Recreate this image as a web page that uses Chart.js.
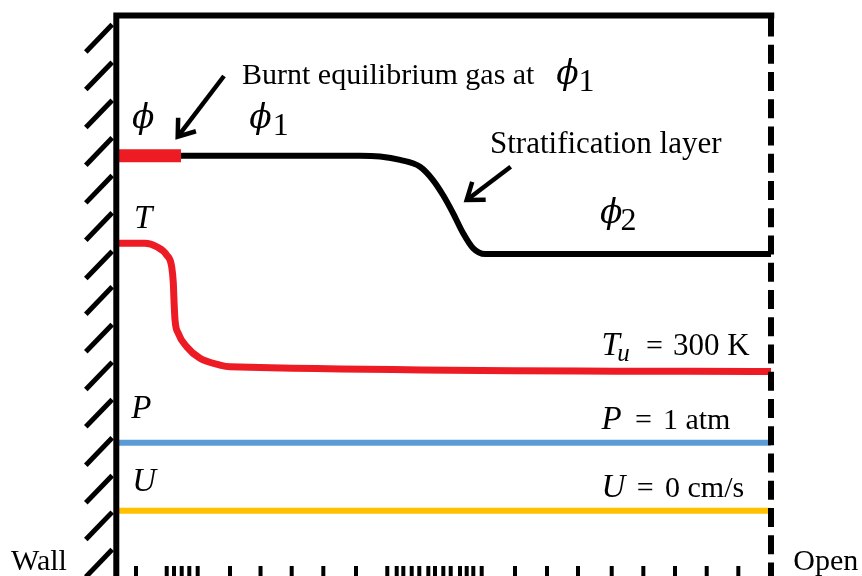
<!DOCTYPE html>
<html>
<head>
<meta charset="utf-8">
<script src="https://cdn.jsdelivr.net/npm/chart.js@4/dist/chart.umd.min.js"></script>
<style>
  html, body { margin: 0; padding: 0; background: #ffffff; }
  #wrap { width: 862px; height: 576px; }
</style>
</head>
<body>
<div id="wrap"><canvas id="chart" width="862" height="576"></canvas></div>
<script>
// Horizontal: position along the duct, 0 = closed wall, 100 = open end.
// Vertical: diagram height, 0 = bottom edge, 100 = top wall.

// Closed-wall hatch marks (heights) and computational mesh nodes (positions)
const wallHatchY = [95.95, 89.24, 82.46, 75.74, 69.01, 62.36, 55.52, 49.15, 42.43, 35.72, 29.05, 22.21, 15.49, 8.96, 2.28];
const meshX = [3.01, 7.70, 8.81, 9.99, 11.15, 12.43, 17.37, 22.03, 26.79, 31.62, 36.61,
               41.39, 42.83, 43.84, 45.12, 46.28, 47.66, 48.68, 49.95, 51.08, 52.50, 53.52, 54.53, 55.81,
               60.90, 65.79, 70.52, 75.67, 80.50, 85.34, 90.18, 95.01];

// Equivalence ratio: burnt gas pocket at the wall, then phi1 -> phi2 through the stratification layer
const burntX = [0, 9.88];
const burntPhi = [75.0, 75.0];
const phiX = [9.88, 37.22, 40.28, 43.33, 46.39, 48.37, 49.90, 51.43, 52.96, 54.48, 56.32, 100];
const phiY = [75.0, 75.0, 74.85, 74.25, 73.02, 70.65, 67.98, 64.76, 61.20, 58.52, 57.45, 57.45];

// Temperature: hot burnt gas near the wall falling to Tu = 300 K
const tempX = [0, 4.38, 6.17, 7.70, 8.46, 8.71, 8.81, 8.97, 9.47, 10.75, 12.78, 15.84, 17.37, 100];
const tempY = [59.36, 59.36, 58.75, 57.27, 55.18, 52.22, 49.24, 45.67, 43.30, 40.91, 38.84, 37.64, 37.34, 36.49];

// Uniform pressure (1 atm) and velocity (0 cm/s)
const presX = [0, 100];
const presY = [23.78, 23.78];
const velX = [0, 100];
const velY = [11.65, 11.65];

// Annotation arrows: [tail, tip]
const burntArrow = [[16.45, 89.21], [9.38, 78.38]];
const stratArrow = [[60.24, 73.02], [53.52, 67.08]];

const pts = (xs, ys) => xs.map((x, i) => ({ x: x, y: ys[i] }));

const SERIF = "'Liberation Serif', 'Times New Roman', serif";
const TXT = "30px " + SERIF;
const TXT2 = "31px " + SERIF;
const MATH = "italic 33px " + SERIF;
const PHI = "italic 33px 'DejaVu Serif', serif";
const SUB = "32px " + SERIF;
const SUBI = "italic 25px " + SERIF;

const labels = [
  { t: 'Burnt equilibrium gas at', x: 19.20, y: 87.78, f: TXT },
  { t: '\u03D5', x: 67.20, y: 87.70, f: PHI },
  { t: '1', x: 70.60, y: 86.60, f: SUB },
  { t: 'Stratification layer', x: 57.08, y: 75.47, f: TXT2 },
  { t: '\u03D5', x: 2.40, y: 79.90, f: PHI },
  { t: '\u03D5', x: 20.30, y: 79.90, f: PHI },
  { t: '1', x: 23.90, y: 78.70, f: SUB },
  { t: '\u03D5', x: 73.90, y: 62.90, f: PHI },
  { t: '2', x: 77.00, y: 61.73, f: SUB },
  { t: 'T', x: 2.70, y: 62.09, f: MATH },
  { t: 'P', x: 2.30, y: 28.19, f: MATH },
  { t: 'U', x: 2.45, y: 15.17, f: MATH },
  { t: 'T', x: 74.10, y: 39.43, f: MATH },
  { t: 'u', x: 76.50, y: 38.30, f: SUBI },
  { t: '=', x: 80.90, y: 39.43, f: TXT },
  { t: '300 K', x: 85.03, y: 39.43, f: TXT2 },
  { t: 'P', x: 74.10, y: 26.23, f: MATH },
  { t: '=', x: 79.23, y: 26.23, f: TXT },
  { t: '1 atm', x: 83.50, y: 26.23, f: TXT },
  { t: 'U', x: 74.10, y: 14.09, f: MATH },
  { t: '=', x: 79.50, y: 14.09, f: TXT },
  { t: '0 cm/s', x: 83.81, y: 14.09, f: TXT },
  { t: 'Wall', x: -16.08, y: 1.07, f: TXT },
  { t: 'Open', x: 103.40, y: 1.07, f: TXT }
];

const annotate = {
  id: 'annotate',
  afterDatasetsDraw(chart) {
    const ctx = chart.ctx, sx = chart.scales.x, sy = chart.scales.y;
    ctx.save();
    // arrows
    ctx.strokeStyle = '#000';
    ctx.lineWidth = 4.5;
    ctx.lineCap = 'butt';
    [burntArrow, stratArrow].forEach(a => {
      const x0 = sx.getPixelForValue(a[0][0]), y0 = sy.getPixelForValue(a[0][1]);
      const x1 = sx.getPixelForValue(a[1][0]), y1 = sy.getPixelForValue(a[1][1]);
      const ang = Math.atan2(y0 - y1, x0 - x1);
      const len = 19, spread = 36 * Math.PI / 180;
      ctx.beginPath();
      ctx.moveTo(x0, y0);
      ctx.lineTo(x1 + Math.cos(ang) * 3, y1 + Math.sin(ang) * 3);
      ctx.stroke();
      ctx.beginPath();
      ctx.moveTo(x1 + Math.cos(ang + spread) * len, y1 + Math.sin(ang + spread) * len);
      ctx.lineTo(x1, y1);
      ctx.lineTo(x1 + Math.cos(ang - spread) * len, y1 + Math.sin(ang - spread) * len);
      ctx.lineJoin = 'miter';
      ctx.stroke();
    });
    // text
    ctx.fillStyle = '#000';
    ctx.textAlign = 'left';
    ctx.textBaseline = 'alphabetic';
    labels.forEach(l => {
      ctx.font = l.f;
      ctx.fillText(l.t, sx.getPixelForValue(l.x), sy.getPixelForValue(l.y));
    });
    ctx.restore();
  }
};

const RED = '#ed1c24';
const line = (data, color, width, extra) => Object.assign({
  type: 'scatter', data: data, showLine: true, borderColor: color, backgroundColor: color,
  borderWidth: width, pointRadius: 0, fill: false, cubicInterpolationMode: 'monotone'
}, extra || {});

new Chart(document.getElementById('chart'), {
  type: 'scatter',
  data: {
    datasets: [
      // closed wall and top boundary
      line([{ x: 0, y: 0 }, { x: 0, y: 100 }, { x: 100.5, y: 100 }], '#000', 6, { borderJoinStyle: 'miter', cubicInterpolationMode: 'default', tension: 0 }),
      // open end
      line([{ x: 100, y: 99.64 }, { x: 100, y: 0 }], '#000', 6, { borderDash: [19, 8.25], tension: 0, cubicInterpolationMode: 'default' }),
      // wall hatching
      { type: 'scatter', data: wallHatchY.map(y => ({ x: -2.64, y: y })), showLine: false,
        pointStyle: 'line', rotation: -46, pointRadius: 19, borderColor: '#000', borderWidth: 5, clip: false },
      // mesh nodes
      { type: 'scatter', data: meshX.map(x => ({ x: x, y: 0.89 })), showLine: false,
        pointStyle: 'line', rotation: 90, pointRadius: 5, borderColor: '#000', borderWidth: 4, clip: false },
      line(pts(presX, presY), '#5b9bd5', 6),
      line(pts(velX, velY), '#ffc000', 6),
      line(pts(tempX, tempY), RED, 7),
      line(pts(phiX, phiY), '#000', 6),
      line(pts(burntX, burntPhi), RED, 13)
    ]
  },
  options: {
    responsive: false,
    animation: false,
    devicePixelRatio: 1,
    layout: { padding: 0, autoPadding: false },
    plugins: { legend: { display: false }, tooltip: { enabled: false } },
    scales: {
      x: { type: 'linear', min: -17.764, max: 113.9, display: false },
      y: { type: 'linear', min: 0, max: 102.77, display: false }
    }
  },
  plugins: [annotate]
});
</script>
</body>
</html>
